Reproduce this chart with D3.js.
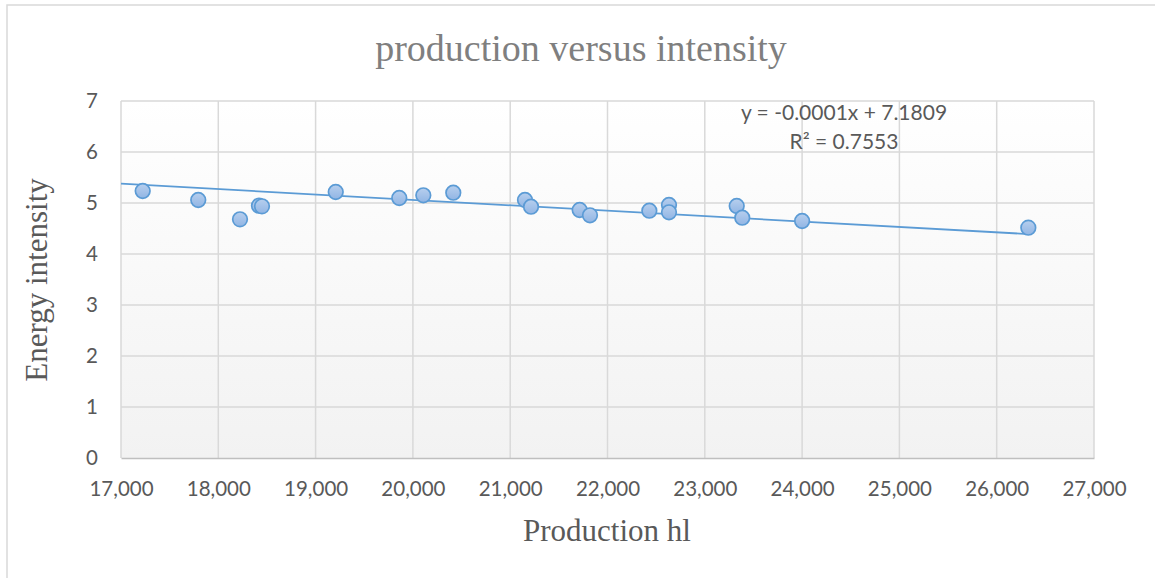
<!DOCTYPE html>
<html>
<head>
<meta charset="utf-8">
<script src="https://cdn.jsdelivr.net/npm/d3@7"></script>
<style>
  html, body { margin: 0; padding: 0; background: #fff; }
  svg { display: block; }
</style>
</head>
<body>
<svg id="chart" width="1155" height="578"></svg>
<script>
// ---- data ----
const production = [17223, 17794, 18223, 18418, 18449, 19207, 19860, 20107, 20415, 21152,
                    21214, 21714, 21820, 22430, 22632, 22632, 23328, 23385, 24000, 26325];
const intensity  = [5.235, 5.059, 4.680, 4.947, 4.935, 5.216, 5.098, 5.151, 5.202, 5.059,
                    4.927, 4.863, 4.759, 4.849, 4.961, 4.818, 4.941, 4.712, 4.647, 4.516];
const xTicks = [17000, 18000, 19000, 20000, 21000, 22000, 23000, 24000, 25000, 26000, 27000];
const yTicks = [0, 1, 2, 3, 4, 5, 6, 7];
const trendSlope = -0.000106;   // displayed as -0.0001
const trendIntercept = 7.1809;
const equationLines = ["y = -0.0001x + 7.1809", "R² = 0.7553"];
const titleText = "production versus intensity";
const xLabel = "Production hl";
const yLabel = "Energy intensity";

const svg = d3.select("#chart");
const W = 1155, H = 578;
const m = { left: 121, top: 101, right: 1094, bottom: 458 };

const x = d3.scaleLinear().domain([17000, 27000]).range([m.left, m.right]);
const y = d3.scaleLinear().domain([0, 7]).range([m.bottom, m.top]);

const defs = svg.append("defs");
const bg = defs.append("linearGradient").attr("id", "bg").attr("x1", 0).attr("y1", 0).attr("x2", 0).attr("y2", 1);
bg.append("stop").attr("offset", "0%").attr("stop-color", "#ffffff");
bg.append("stop").attr("offset", "100%").attr("stop-color", "#f2f2f2");
const mk = defs.append("linearGradient").attr("id", "mk").attr("x1", 0).attr("y1", 0).attr("x2", 0).attr("y2", 1);
mk.append("stop").attr("offset", "0%").attr("stop-color", "#b7cfee");
mk.append("stop").attr("offset", "100%").attr("stop-color", "#91b5e4");

const tickFont = "Lato, 'Open Sans', sans-serif";
const tickSize = "20.5px";

// chart frame
svg.append("rect").attr("x", 7).attr("y", 5).attr("width", W).attr("height", H)
  .attr("fill", "#fff").attr("stroke", "#d9d9d9").attr("stroke-width", 1.5);

// plot background
svg.append("rect").attr("x", m.left).attr("y", m.top)
  .attr("width", m.right - m.left).attr("height", m.bottom - m.top)
  .attr("fill", "url(#bg)");

// gridlines
const grid = svg.append("g");
grid.selectAll("line.v").data(xTicks).join("line")
  .attr("x1", d => x(d)).attr("x2", d => x(d))
  .attr("y1", m.top).attr("y2", m.bottom)
  .attr("stroke", "#d9d9d9").attr("stroke-width", 1.5);
grid.selectAll("line.h").data(yTicks.filter(d => d > 0)).join("line")
  .attr("x1", m.left).attr("x2", m.right)
  .attr("y1", d => y(d)).attr("y2", d => y(d))
  .attr("stroke", "#d9d9d9").attr("stroke-width", 1.5);

// axes
const xAxis = svg.append("g").attr("transform", `translate(0,${m.bottom})`)
  .call(d3.axisBottom(x).tickValues(xTicks).tickFormat(d3.format(",")).tickSize(0).tickPadding(23));
xAxis.select(".domain").attr("stroke", "#bfbfbf").attr("stroke-width", 1.5);
xAxis.selectAll("text").attr("fill", "#595959").style("font-family", tickFont).style("font-size", tickSize);

const yAxis = svg.append("g").attr("transform", `translate(${m.left},0)`)
  .call(d3.axisLeft(y).tickValues(yTicks).tickFormat(d3.format("d")).tickSize(0).tickPadding(23));
yAxis.select(".domain").remove();
yAxis.selectAll("text").attr("fill", "#595959").style("font-family", tickFont).style("font-size", tickSize);

// trend line
const xs = [17000, d3.max(production)];
svg.append("line")
  .attr("x1", x(xs[0])).attr("y1", y(trendIntercept + trendSlope * xs[0]))
  .attr("x2", x(xs[1])).attr("y2", y(trendIntercept + trendSlope * xs[1]))
  .attr("stroke", "#5b9bd5").attr("stroke-width", 1.8);

// points
const pts = production.map((p, i) => ({ p, v: intensity[i] }));
svg.append("g").selectAll("circle").data(pts).join("circle")
  .attr("cx", d => x(d.p)).attr("cy", d => y(d.v)).attr("r", 7.3)
  .attr("fill", "url(#mk)").attr("stroke", "#5b9bd5").attr("stroke-width", 1.7);

// equation
const eq = svg.append("text").attr("text-anchor", "middle")
  .style("font-family", tickFont).style("font-size", "21px").attr("fill", "#595959");
eq.selectAll("tspan").data(equationLines).join("tspan")
  .attr("x", 844).attr("y", (d, i) => 120 + i * 29).text(d => d);

// title
svg.append("text").attr("x", 581).attr("y", 61).attr("text-anchor", "middle")
  .style("font-family", "'Liberation Serif', 'Times New Roman', serif").style("font-size", "38px")
  .attr("fill", "#7f7f7f").text(titleText);

// axis titles
svg.append("text").attr("x", 607).attr("y", 541).attr("text-anchor", "middle")
  .style("font-family", "'Liberation Serif', 'Times New Roman', serif").style("font-size", "31px")
  .attr("fill", "#595959").text(xLabel);
svg.append("text").attr("transform", "translate(47,280) rotate(-90)").attr("text-anchor", "middle")
  .style("font-family", "'Liberation Serif', 'Times New Roman', serif").style("font-size", "31px")
  .attr("fill", "#595959").text(yLabel);
</script>
</body>
</html>
